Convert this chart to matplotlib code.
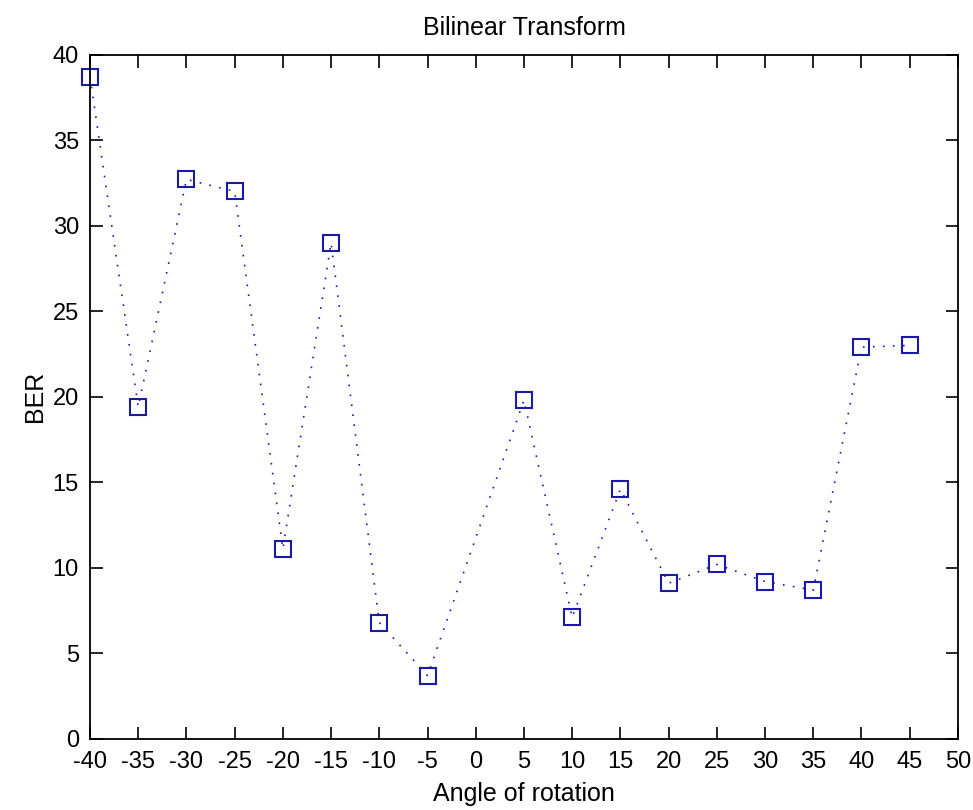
import matplotlib
matplotlib.use("Agg")
import matplotlib.pyplot as plt

# angle of rotation vs BER
angles = [-40, -35, -30, -25, -20, -15, -10, -5, 5, 10, 15, 20, 25, 30, 35, 40, 45]
ber = [38.7, 19.4, 32.7, 32.0, 11.1, 29.0, 6.8, 3.7, 19.8, 7.1, 14.6, 9.1, 10.2, 9.2, 8.7, 22.9, 23.0]

xticks = list(range(-40, 55, 5))
yticks = list(range(0, 45, 5))

plt.rcParams['font.family'] = ['Liberation Sans', 'DejaVu Sans']
plt.rcParams['axes.unicode_minus'] = False

fig = plt.figure(figsize=(9.73, 8.1), dpi=100)
ax = fig.add_axes([0.0925, 0.0877, 0.892, 0.845])

ax.plot(angles, ber, linestyle=(0, (1, 5)), color='#1a1ab0', linewidth=1.2,
        marker='s', markersize=12, markerfacecolor='none',
        markeredgecolor='#1a1aa8', markeredgewidth=1.5, clip_on=False)

ax.set_xlim(-40, 50)
ax.set_ylim(0, 40)
ax.set_xticks(xticks)
ax.set_yticks(yticks)
ax.set_xticklabels([str(t) for t in xticks])
ax.set_yticklabels([str(t) for t in yticks])
ax.tick_params(direction='in', top=True, right=True, length=9, width=1.2,
               labelsize=17)
ax.tick_params(axis='x', pad=9)
ax.tick_params(axis='y', pad=8)
for s in ax.spines.values():
    s.set_linewidth(1.3)

ax.set_title('Bilinear Transform', fontsize=18, pad=14)
ax.set_xlabel('Angle of rotation', fontsize=18, labelpad=6)
ax.set_ylabel('BER', fontsize=18, labelpad=4)

fig.savefig('out.png', dpi=100)
